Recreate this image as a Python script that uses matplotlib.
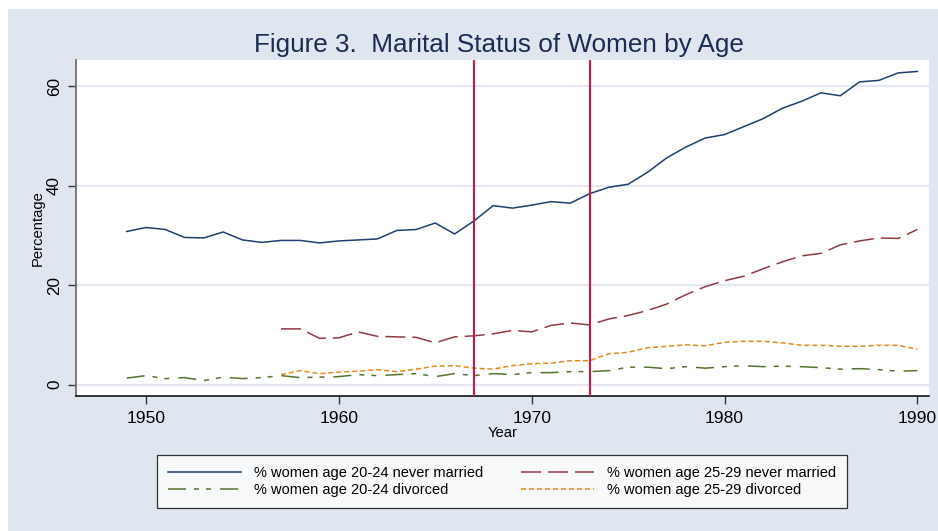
import numpy as np
import matplotlib
matplotlib.use("Agg")
import matplotlib.pyplot as plt
from matplotlib.patches import Rectangle

plt.rcParams['font.family'] = ['Liberation Sans', 'DejaVu Sans']
plt.rcParams['lines.scale_dashes'] = False

# --- data ---
years_all = list(range(1949, 1991))
years_2529 = list(range(1957, 1991))

never_2024 = [30.8, 31.6, 31.2, 29.6, 29.5, 30.7, 29.1, 28.6, 29.0, 29.0,
              28.5, 28.9, 29.1, 29.3, 31.0, 31.2, 32.5, 30.3, 32.9, 36.0,
              35.5, 36.1, 36.8, 36.5, 38.4, 39.7, 40.3, 42.7, 45.6, 47.8,
              49.6, 50.3, 51.9, 53.5, 55.6, 57.0, 58.7, 58.1, 60.9, 61.2,
              62.7, 63.0]
div_2024 = [1.3, 1.8, 1.2, 1.4, 0.8, 1.5, 1.2, 1.4, 1.8, 1.4,
            1.5, 1.6, 2.0, 1.8, 2.0, 2.2, 1.6, 2.2, 1.8, 2.2,
            2.0, 2.4, 2.4, 2.6, 2.6, 2.8, 3.5, 3.5, 3.2, 3.6,
            3.3, 3.6, 3.8, 3.6, 3.7, 3.6, 3.4, 3.1, 3.2, 3.0,
            2.7, 2.8]
never_2529 = [11.2, 11.2, 9.3, 9.4, 10.6, 9.7, 9.6, 9.5, 8.4, 9.6,
              9.8, 10.2, 10.9, 10.6, 11.9, 12.4, 12.0, 13.2, 13.9, 14.9,
              16.2, 18.1, 19.7, 20.9, 21.8, 23.3, 24.7, 25.9, 26.4, 28.1,
              28.9, 29.5, 29.4, 31.2]
div_2529 = [2.0, 2.8, 2.2, 2.5, 2.7, 3.0, 2.6, 3.1, 3.7, 3.8,
            3.3, 3.1, 3.8, 4.2, 4.3, 4.8, 4.8, 6.2, 6.5, 7.4,
            7.7, 8.0, 7.8, 8.5, 8.7, 8.7, 8.4, 7.9, 7.9, 7.7,
            7.7, 7.9, 7.9, 7.1]

event_years = [1967, 1973]
x_ticks = [1950, 1960, 1970, 1980, 1990]
y_ticks = [0, 20, 40, 60]

W, H = 938, 531
bg = '#e0e6f0'

fig = plt.figure(figsize=(W / 100, H / 100), dpi=100, facecolor='white')
# screenshot has a thin white margin on the left/top
fig.patches.append(Rectangle((8 / W, 0), 1, 1 - 9 / H, transform=fig.transFigure,
                             facecolor=bg, edgecolor='none', zorder=-10))

ax = fig.add_axes([76 / W, 1 - 396 / H, (929 - 76) / W, (396 - 60) / H])
ax.set_facecolor('white')

ax.set_xlim(1946.37, 1990.6)
ax.set_ylim(-2.3, 65.3)

for y in y_ticks:
    ax.axhline(y, color='#e3e8f1', lw=1.6, zorder=0)

px = 0.72  # points per pixel
lw = 1.1
ax.plot(years_all, never_2024, color='#1f3f6e', lw=lw, label='% women age 20-24 never married')
ax.plot(years_2529, never_2529, color='#913b45', lw=lw,
        dashes=(20 * px, 7 * px), label='% women age 25-29 never married')
ax.plot(years_all, div_2024, color='#55752f', lw=lw,
        dashes=(18 * px, 8 * px, 5 * px, 7 * px, 5 * px, 9 * px),
        label='% women age 20-24 divorced')
ax.plot(years_2529, div_2529, color='#e8861a', lw=lw,
        dashes=(5 * px, 3 * px), label='% women age 25-29 divorced')

for yr in event_years:
    ax.axvline(yr, color='#c8174a', lw=1.5, zorder=3)

for side in ['top', 'right']:
    ax.spines[side].set_visible(False)
ax.spines['left'].set_color('#6e6e6e')
ax.spines['left'].set_linewidth(1.3)
ax.spines['bottom'].set_color('black')
ax.spines['bottom'].set_linewidth(1.1)

ax.set_xticks(x_ticks)
ax.set_yticks(y_ticks)
ax.tick_params(axis='x', length=6, width=1, color='#333333', pad=5, labelsize=12.6)
ax.tick_params(axis='y', length=6, width=1, color='#333333', pad=4, labelsize=12.3)
for lab in ax.get_yticklabels():
    lab.set_rotation(90)
    lab.set_va('center')

ax.set_xlabel('Year', fontsize=10.6, labelpad=0)
ax.set_ylabel('Percentage', fontsize=10.6, labelpad=1.5)

fig.text(499 / W, 1 - 52 / H, 'Figure 3.  Marital Status of Women by Age',
         ha='center', va='baseline', fontsize=18.8, color='#1b2b52')

handles, labels = ax.get_legend_handles_labels()
order = [0, 2, 1, 3]
leg = fig.legend([handles[i] for i in order], [labels[i] for i in order],
                 ncol=2, loc='center',
                 bbox_to_anchor=((155 + 849) / 2 / W, 1 - (452 + 511) / 2 / H),
                 fontsize=10.5, frameon=True, fancybox=False, shadow=False,
                 handlelength=5.0, handletextpad=0.9, columnspacing=2.6,
                 labelspacing=0.25, borderpad=0.75, borderaxespad=0)
leg.get_frame().set_edgecolor('black')
leg.get_frame().set_linewidth(0.9)
leg.get_frame().set_facecolor('white')

fig.savefig('out.png', dpi=100, facecolor=fig.get_facecolor())
